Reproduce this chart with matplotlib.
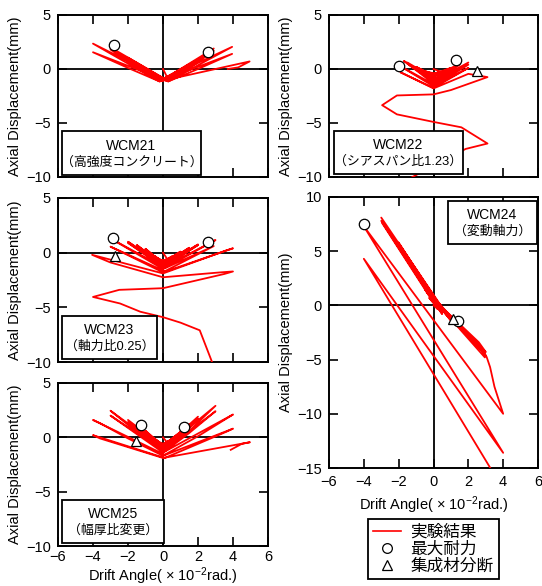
import matplotlib
matplotlib.use("Agg")
import matplotlib.pyplot as plt
from matplotlib.lines import Line2D
from matplotlib.patches import Rectangle

plt.rcParams['font.family'] = ['Liberation Sans', 'Noto Sans CJK JP', 'DejaVu Sans']
plt.rcParams['mathtext.fontset'] = 'custom'
plt.rcParams['mathtext.rm'] = 'Liberation Sans'
plt.rcParams['mathtext.it'] = 'Liberation Sans:italic'
plt.rcParams['axes.unicode_minus'] = True

# ---------------- data ----------------
# WCM21
x21 = [0, 0.25, 0, -0.25, 0, 0.25, 0, -0.25, 0,
       0.5, 0, -0.5, 0, 0.5, 0, -0.5, 0,
       1.0, 0, -1.0, 0, 1.0, 0, -1.0, 0,
       1.5, 0, -1.5, 0, 1.5, 0, -1.5, 0,
       2.0, 1.0, 0.2, -2.0, -1.0, -0.1, 2.0, 1.0, 0.2, -2.0, -1.0, -0.1,
       2.9, 1.5, 0.3, -3.0, -1.5, -0.2, 2.9, 1.5, 0.3, -3.0, -1.5, -0.2,
       3.95, 2.0, 0.3, -4.0, -2.0, -0.2, 3.95, 2.0, 0.3, -4.0, -2.0, -0.2,
       4.95, 4.3, 3.7]
y21 = [0, -0.8, -0.9, -0.8, -0.9, -0.75, -0.9, -0.75, -0.92,
       -0.55, -0.95, -0.5, -0.95, -0.5, -0.95, -0.45, -0.95,
       -0.1, -1.0, 0.0, -1.0, -0.05, -1.0, 0.05, -1.0,
       0.35, -1.05, 0.5, -1.05, 0.3, -1.05, 0.45, -1.05,
       0.8, -0.35, -1.05, 1.05, -0.2, -1.1, 0.75, -0.4, -1.1, 1.0, -0.25, -1.1,
       1.9, 0.15, -1.1, 2.0, 0.25, -1.1, 1.7, 0.05, -1.1, 1.8, 0.15, -1.1,
       2.05, 0.35, -1.15, 2.35, 0.5, -1.15, 1.4, 0.0, -1.15, 1.55, 0.1, -1.15,
       0.7, 0.15, 0.0]
max21_x = [-2.82, 2.57]
max21_y = [2.2, 1.58]

# WCM22
x22 = [0, 0.5, 0, -0.5, 0, 1.0, 0, -1.0, 0, 1.0, 0, -1.0, 0, 1.5, 0.1, -1.5, 0, 1.5, 0.1, -1.5, 0,
       2.0, 0.1, -1.7, 0, 2.0, 0.1, -1.95, 0, 2.0, 0, -1.9, 0, 2.0, 3.1, 1.0, 0, -2.1, -2.95, -2.1,
       0, 1.6, 3.1, 1.85, -1.8]
y22 = [0, -0.3, -0.4, -0.2, -0.45, 0.1, -0.6, 0.2, -0.65, 0.05, -0.7, 0.15, -0.75, 0.5, -0.9, 0.6,
       -1.0, 0.4, -1.1, 0.5, -1.15, 0.6, -1.3, 0.75, -1.35, 0.4, -1.5, 0.3, -1.6, 0.1, -1.75, -0.3,
       -1.8, -0.45, -0.75, -1.95, -2.35, -2.45, -3.35, -4.2, -4.9, -5.4, -6.9, -7.4, -10.5]
max22_x = [-1.96, 1.29]
max22_y = [0.31, 0.83]
brk22_x = [2.52]
brk22_y = [-0.19]

# WCM23
x23 = [0, 0.25, 0, -0.25, 0, 0.5, 0, -0.5, 0, 0.5, 0, -0.5, 0, 1.0, 0, -1.0, 0, 1.0, 0, -1.0, 0,
       1.5, 0, -1.5, 0, 2.0, 0.1, -2.0, 0, 2.0, 0.1, -2.0, 0, 3.0, 0.1, -3.0, 0, 2.9, 0.1, -3.0, 0,
       4.0, 3.6, 0, -4.05, -3.0, 0, 3.3, 4.0, 3.5, 0, -2.5, -4.0, -2.45, -1.3, 0, 1.0, 2.1, 2.85]
y23 = [0, -0.6, -0.7, -0.6, -0.75, -0.4, -0.8, -0.3, -0.85, -0.35, -0.85, -0.3, -0.9, 0.1, -0.95,
       0.35, -1.0, 0.05, -1.0, 0.3, -1.05, 0.45, -1.1, 0.7, -1.15, 0.75, -1.2, 1.0, -1.25, 0.7, -1.3,
       0.9, -1.35, 1.15, -1.4, 1.3, -1.5, 0.6, -1.7, 0.55, -1.8, 0.4, 0.2, -1.9, -0.2, -0.9, -2.25,
       -1.8, -1.72, -1.95, -3.25, -3.4, -4.05, -4.65, -5.4, -5.9, -6.4, -7.1, -10.2]
max23_x = [-2.86, 2.59]
max23_y = [1.37, 1.0]
brk23_x = [-2.74]
brk23_y = [-0.27]

# WCM24
x24 = [0, 0.25, 0, -0.25, 0, 0.5, 0, -0.5, 0, 0.5, 0, -0.5, 0, 1.0, 0.1, -1.0, 0, 1.0, 0.1, -1.0, 0,
       2.0, 0.3, -2.0, -0.2, 2.0, 0.3, -2.0, -0.2, 3.0, 2.6, 0.5, -3.0, -0.3, 3.0, 2.6, 0.5, -3.0,
       -0.3, 2.95, 2.7, 0.5, -2.95, -0.3, 2.8, 3.05, 3.25, 3.5, 4.0, -4.0, 4.0, -4.0, 3.45]
y24 = [0, -0.35, 0.2, 0.7, 0.3, -0.7, 0.3, 1.5, 0.4, -0.8, 0.35, 1.6, 0.45, -1.3, 0.4, 3.1, 0.6,
       -1.4, 0.4, 3.2, 0.7, -2.8, 0.2, 5.7, 1.1, -2.9, 0.1, 5.8, 1.0, -4.3, -3.4, -0.2, 8.1, 1.2,
       -4.6, -3.6, -0.3, 7.8, 1.1, -4.8, -3.8, -0.4, 7.6, 1.0, -4.2, -4.75, -5.7, -7.5, -10.0, 7.3,
       -13.6, 4.3, -15.5]
max24_x = [-4.0, 1.43]
max24_y = [7.5, -1.45]
brk24_x = [1.1]
brk24_y = [-1.3]

# WCM25
x25 = [0, 0.25, 0, -0.25, 0,
       0.5, 0, -0.5, 0, 0.5, 0, -0.5, 0,
       1.0, 0, -1.0, 0, 1.0, 0, -1.0, 0,
       1.5, 0, -1.5, 0, 1.5, 0, -1.5, 0,
       2.0, 1.0, 0.1, -2.0, -1.0, 0, 2.0, 1.0, 0.1, -2.0, -1.0, 0,
       3.0, 1.5, 0.1, -3.0, -1.5, 0, 3.0, 1.5, 0.1, -3.0, -1.5, 0,
       4.0, 3.6, 2.0, 0.1, -4.0, -3.6, -2.0, 0,
       4.0, 3.6, 2.0, 0.1, -4.0, -3.6, -2.0, 0,
       4.97, 4.5, 3.87]
y25 = [0, -0.5, -0.6, -0.5, -0.6,
       -0.2, -0.65, -0.15, -0.7, -0.15, -0.7, -0.1, -0.75,
       0.5, -0.8, 0.6, -0.85, 0.45, -0.9, 0.55, -0.9,
       1.2, -0.95, 1.1, -1.0, 1.1, -1.0, 1.0, -1.0,
       1.9, 0.2, -1.0, 1.6, 0.1, -1.05, 1.7, 0.1, -1.1, 1.4, 0.0, -1.1,
       2.9, 0.6, -1.2, 2.45, 0.5, -1.25, 2.4, 0.4, -1.3, 2.0, 0.3, -1.4,
       2.1, 1.7, 0.1, -1.6, 1.6, 1.3, -0.1, -1.7,
       0.8, 0.5, -0.6, -1.9, 0.2, -0.1, -0.9, -1.9,
       -0.45, -0.6, -1.15]
max25_x = [-1.24, 1.2]
max25_y = [1.14, 0.98]
brk25_x = [-1.56]
brk25_y = [-0.3]

names = ["WCM21", "WCM22", "WCM23", "WCM24", "WCM25"]
notes = ["（高強度コンクリート）", "（シアスパン比1.23）", "（軸力比0.25）", "（変動軸力）", "（幅厚比変更）"]
legend_labels = ["実験結果", "最大耐力", "集成材分断"]
xticks = [-6, -4, -2, 0, 2, 4, 6]
yticks_small = [-10, -5, 0, 5]
yticks_big = [-15, -10, -5, 0, 5, 10]

for a, b in [(x21, y21), (x22, y22), (x23, y23), (x24, y24), (x25, y25)]:
    assert len(a) == len(b), (len(a), len(b))

# ---------------- figure ----------------
W, H = 542, 586
fig = plt.figure(figsize=(W / 100, H / 100), dpi=100)


def px_axes(l, t, r, b):
    return fig.add_axes([l / W, 1 - b / H, (r - l) / W, (b - t) / H])


RED = '#ff0000'
FS = 10.5
LW = 1.3


def style(ax, ylim, yticks, show_x):
    ax.set_xlim(-6, 6)
    ax.set_ylim(*ylim)
    ax.set_xticks(xticks)
    ax.set_yticks(yticks)
    ax.tick_params(direction='in', length=6.5, width=1.2, top=True, right=True,
                   labelsize=FS, pad=5, labelbottom=show_x)
    for s in ax.spines.values():
        s.set_linewidth(1.4)
    ax.axhline(0, color='black', lw=1.3, zorder=1)
    ax.axvline(0, color='black', lw=1.3, zorder=1)
    ax.set_ylabel("Axial Displacement(mm)", fontsize=FS)
    ax.yaxis.set_label_coords(-0.17, 0.5)
    if show_x:
        ax.set_xlabel("Drift Angle( × 10$^{-2}$rad.)", fontsize=FS)


def box(ax, l, t, r, b, name, note):
    ax.add_patch(Rectangle((l / W, 1 - b / H), (r - l) / W, (b - t) / H,
                           transform=fig.transFigure, clip_on=False,
                           fc='white', ec='black', lw=1.3, zorder=9))
    cx = (l + r) / 2 / W
    cy = (t + b) / 2
    ax.text(cx, 1 - (cy - 7.5) / H, name, transform=fig.transFigure,
            ha='center', va='center', fontsize=10, zorder=10)
    ax.text(cx, 1 - (cy + 9.5) / H, note, transform=fig.transFigure,
            ha='center', va='center', fontsize=9.3, zorder=10)


def marks(ax, mx, my, bx=None, by=None):
    ax.plot(mx, my, 'o', ms=7.5, mfc='white', mec='black', mew=0.9, zorder=6)
    if bx is not None:
        ax.plot(bx, by, '^', ms=7.5, mfc='white', mec='black', mew=0.9, zorder=6)


ax1 = px_axes(58, 15, 268, 177)
ax2 = px_axes(329, 15, 538, 177)
ax3 = px_axes(58, 198, 268, 362)
ax4 = px_axes(329, 197, 538, 468)
ax5 = px_axes(58, 383, 268, 546)

ax1.plot(x21, y21, color=RED, lw=LW, zorder=3)
marks(ax1, max21_x, max21_y)
style(ax1, (-10, 5), yticks_small, False)
box(ax1, 62, 131, 201, 175, names[0], notes[0])

ax2.plot(x22, y22, color=RED, lw=LW, zorder=3)
marks(ax2, max22_x, max22_y, brk22_x, brk22_y)
style(ax2, (-10, 5), yticks_small, False)
box(ax2, 334, 131, 463, 174, names[1], notes[1])

ax3.plot(x23, y23, color=RED, lw=LW, zorder=3)
marks(ax3, max23_x, max23_y, brk23_x, brk23_y)
style(ax3, (-10, 5), yticks_small, False)
box(ax3, 62, 316, 157, 359, names[2], notes[2])

ax4.plot(x24, y24, color=RED, lw=LW, zorder=3)
marks(ax4, max24_x, max24_y, brk24_x, brk24_y)
style(ax4, (-15, 10), yticks_big, True)
ax4.yaxis.set_label_coords(-0.172, 0.5)
ax4.xaxis.set_label_coords(0.5, -0.096)
box(ax4, 448, 201, 537, 244, names[3], notes[3])

ax5.plot(x25, y25, color=RED, lw=LW, zorder=3)
marks(ax5, max25_x, max25_y, brk25_x, brk25_y)
style(ax5, (-10, 5), yticks_small, True)
ax5.tick_params(axis='x', pad=3)
ax5.xaxis.set_label_coords(0.5, -0.118)
box(ax5, 62, 500, 164, 543, names[4], notes[4])

handles = [
    Line2D([], [], color=RED, lw=1.2),
    Line2D([], [], ls='none', marker='o', ms=7, mfc='white', mec='black', mew=0.9),
    Line2D([], [], ls='none', marker='^', ms=7, mfc='white', mec='black', mew=0.9),
]
leg = fig.legend(handles, legend_labels, loc='upper left',
                 bbox_to_anchor=(368 / W, 1 - 519 / H), fontsize=12,
                 frameon=True, fancybox=False, edgecolor='black', framealpha=1,
                 handlelength=1.7, handletextpad=0.55, labelspacing=0.12,
                 borderpad=0.3, borderaxespad=0)
leg.get_frame().set_linewidth(1.3)

fig.savefig("out.png", dpi=100, facecolor='white')
